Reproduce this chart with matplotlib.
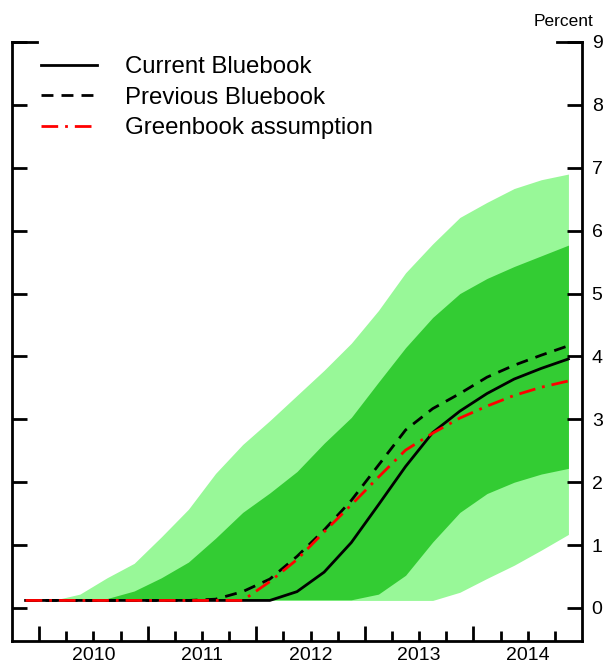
import numpy as np
import matplotlib.pyplot as plt
from matplotlib.ticker import FixedLocator, FuncFormatter

plt.rcParams['font.family'] = ['Liberation Sans', 'DejaVu Sans']

# quarterly points, 2009Q4 .. 2014Q4 (plotted at mid-quarter)
quarters = 2009.875 + 0.25 * np.arange(21)

current_bluebook = [0.12, 0.12, 0.12, 0.12, 0.12, 0.12, 0.12, 0.12, 0.12, 0.12,
                    0.26, 0.57, 1.04, 1.64, 2.25, 2.79, 3.13, 3.41, 3.64, 3.81, 3.96]
previous_bluebook = [0.12, 0.12, 0.12, 0.12, 0.12, 0.12, 0.12, 0.14, 0.26, 0.46,
                     0.82, 1.24, 1.71, 2.27, 2.83, 3.17, 3.41, 3.67, 3.86, 4.02, 4.17]
greenbook = [0.12, 0.12, 0.12, 0.12, 0.12, 0.12, 0.12, 0.12, 0.12, 0.42,
             0.77, 1.21, 1.64, 2.08, 2.51, 2.78, 3.02, 3.21, 3.38, 3.51, 3.61]

# confidence bands
outer_hi = [0.12, 0.12, 0.22, 0.48, 0.71, 1.13, 1.57, 2.14, 2.60, 2.98,
            3.38, 3.78, 4.21, 4.73, 5.33, 5.79, 6.21, 6.45, 6.67, 6.81, 6.90]
inner_hi = [0.12, 0.12, 0.12, 0.15, 0.27, 0.48, 0.73, 1.11, 1.52, 1.83,
            2.17, 2.62, 3.03, 3.59, 4.14, 4.62, 5.00, 5.24, 5.43, 5.60, 5.77]
inner_lo = [0.13, 0.13, 0.13, 0.13, 0.13, 0.13, 0.13, 0.13, 0.13, 0.13,
            0.13, 0.13, 0.13, 0.22, 0.52, 1.05, 1.52, 1.82, 2.00, 2.13, 2.22]
outer_lo = [0.12, 0.12, 0.12, 0.12, 0.12, 0.12, 0.12, 0.12, 0.12, 0.12,
            0.12, 0.12, 0.12, 0.12, 0.12, 0.12, 0.25, 0.47, 0.68, 0.92, 1.17]

years = [2010, 2011, 2012, 2013, 2014]

fig = plt.figure(figsize=(6.04, 6.63), dpi=100)
ax = fig.add_axes([12 / 604, 22 / 663, 570 / 604, 599 / 663])

ax.fill_between(quarters, outer_lo, outer_hi, color='#98F898', lw=0)
ax.fill_between(quarters, inner_lo, inner_hi, color='#33CC33', lw=0)

ax.plot(quarters, current_bluebook, color='black', lw=2, label='Current Bluebook')
ax.plot(quarters, previous_bluebook, color='black', lw=2, dashes=(4.3, 2.9),
        label='Previous Bluebook')
ax.plot(quarters, greenbook, color='red', lw=2, dashes=(6, 2.5, 1, 2.5),
        label='Greenbook assumption')

ax.set_xlim(2009.75, 2015.0)
ax.set_ylim(-0.525, 9.0)

# frame
ax.spines['top'].set_visible(False)
for s in ['left', 'right', 'bottom']:
    ax.spines[s].set_linewidth(2)

# y axis: inward ticks both sides, labels on the right
ax.set_yticks(range(10))
ax.tick_params(axis='y', direction='in', left=True, right=True,
               labelleft=False, labelright=True, length=10.8, width=2,
               labelsize=14, pad=7)
# longer ticks at the top
ax.plot([0, 25 / 570], [9, 9], color='black', lw=2,
        transform=ax.get_yaxis_transform(), clip_on=False)
ax.plot([1 - 25 / 570, 1], [9, 9], color='black', lw=2,
        transform=ax.get_yaxis_transform(), clip_on=False)

# x axis: long ticks at years, short ticks at quarters, labels mid-year
ax.xaxis.set_major_locator(FixedLocator(years))
ax.xaxis.set_minor_locator(FixedLocator([y + q for y in years for q in (0.25, 0.5, 0.75)]))
ax.xaxis.set_major_formatter(FuncFormatter(lambda v, p: ''))
ax.xaxis.set_minor_formatter(FuncFormatter(lambda v, p: str(int(v)) if abs(v % 1 - 0.5) < 1e-6 else ''))
ax.tick_params(axis='x', which='major', direction='in', length=10.8, width=2)
ax.tick_params(axis='x', which='minor', direction='in', length=7.2, width=2,
               labelsize=14, pad=4)

fig.text(593 / 604, 1 - 21 / 663, 'Percent', ha='right', va='center', fontsize=12.5)

ax.legend(loc='upper left', bbox_to_anchor=(41 / 604, 1 - 56 / 663),
          bbox_transform=fig.transFigure, frameon=False, fontsize=17.3,
          handlelength=2.35, handletextpad=1.15, borderpad=0, borderaxespad=0,
          labelspacing=0.36)

fig.savefig('out.png', dpi=100)
